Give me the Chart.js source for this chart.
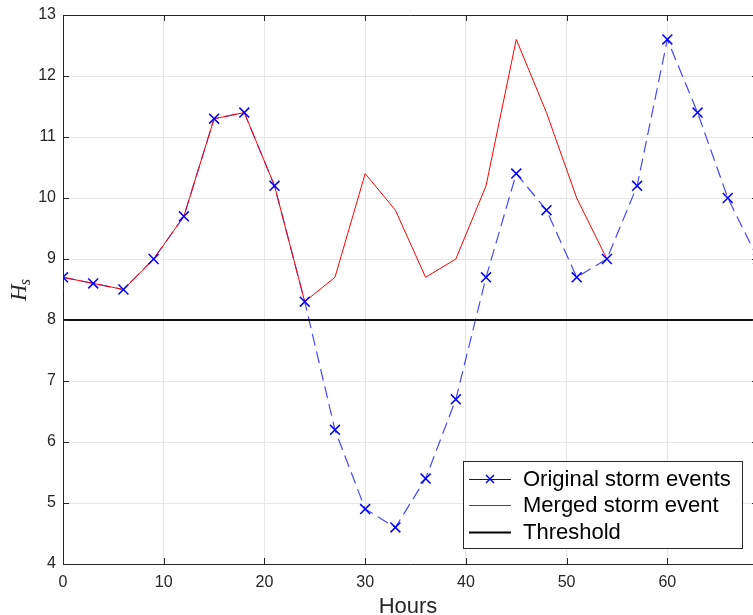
<!DOCTYPE html>
<html>
<head>
<meta charset="utf-8">
<script src="https://cdn.jsdelivr.net/npm/chart.js@4/dist/chart.umd.min.js"></script>
<style>
    html, body { margin: 0; padding: 0; background: #fff; overflow: hidden; }
    #wrap { width: 753px; height: 615px; overflow: hidden; }
</style>
</head>
<body>
<div id="wrap"><canvas id="stormChart" width="758" height="615"></canvas></div>
<script>
// storm series sampled every 3 hours
const hours = [0, 3, 6, 9, 12, 15, 18, 21, 24, 27, 30, 33, 36, 39, 42, 45, 48, 51, 54, 57, 60, 63, 66, 69];
const originalHs = [8.7, 8.6, 8.5, 9.0, 9.7, 11.3, 11.4, 10.2, 8.3, 6.2, 4.9, 4.6, 5.4, 6.7, 8.7, 10.4, 9.8, 8.7, 9.0, 10.2, 12.6, 11.4, 10.0, 9.0];
const mergedHours = [0, 3, 6, 9, 12, 15, 18, 21, 24, 27, 30, 33, 36, 39, 42, 45, 48, 51, 54];
const mergedHs = [8.7, 8.6, 8.5, 9.0, 9.7, 11.3, 11.4, 10.2, 8.3, 8.7, 10.4, 9.8, 8.7, 9.0, 10.2, 12.6, 11.4, 10.0, 9.0];
const threshold = 8;
const thresholdHours = [0, 69];

const xTicks = [0, 10, 20, 30, 40, 50, 60];
const yTicks = [4, 5, 6, 7, 8, 9, 10, 11, 12, 13];
const legendLabels = ["Original storm events", "Merged storm event", "Threshold"];

const BLUE = "#0000ff";
const RED = "#ff0000";
const AXIS = "#262626";

function toPoints(xs, ys) {
    return xs.map((x, i) => ({ x: x, y: ys[i] }));
}

// axes box, inward ticks, axis titles and the legend
const decorations = {
    id: "decorations",
    afterDraw(chart) {
        const ctx = chart.ctx;
        const { left, right, top, bottom } = chart.chartArea;
        const xs = chart.scales.x;
        const ys = chart.scales.y;

        ctx.save();
        ctx.strokeStyle = AXIS;
        ctx.lineWidth = 1;
        ctx.beginPath();
        ctx.moveTo(left + 0.5, top + 0.5);
        ctx.lineTo(right, top + 0.5);
        ctx.moveTo(left + 0.5, top);
        ctx.lineTo(left + 0.5, bottom + 0.5);
        ctx.lineTo(right, bottom + 0.5);
        ctx.moveTo(right - 0.5, top);
        ctx.lineTo(right - 0.5, bottom);
        ctx.stroke();

        // ticks pointing into the plot
        ctx.beginPath();
        xTicks.forEach(v => {
            const px = Math.round(xs.getPixelForValue(v)) + 0.5;
            ctx.moveTo(px, bottom);
            ctx.lineTo(px, bottom - 6);
            ctx.moveTo(px, top);
            ctx.lineTo(px, top + 6);
        });
        yTicks.forEach(v => {
            const py = Math.round(ys.getPixelForValue(v)) + 0.5;
            ctx.moveTo(left, py);
            ctx.lineTo(left + 6, py);
            ctx.moveTo(right, py);
            ctx.lineTo(right - 6, py);
        });
        ctx.stroke();

        // x title
        ctx.fillStyle = AXIS;
        ctx.font = "22px 'Liberation Sans', Arial, sans-serif";
        ctx.textAlign = "center";
        ctx.textBaseline = "alphabetic";
        ctx.fillText("Hours", (left + 753) / 2, 613);

        // y title H_s
        ctx.save();
        ctx.translate(26, (top + bottom) / 2);
        ctx.rotate(-Math.PI / 2);
        ctx.font = "italic 23px 'Liberation Serif', 'DejaVu Serif', serif";
        ctx.textAlign = "left";
        const hw = ctx.measureText("H").width;
        ctx.font = "italic 16px 'Liberation Serif', 'DejaVu Serif', serif";
        const sw = ctx.measureText("s").width;
        const startX = -(hw + sw) / 2;
        ctx.font = "italic 23px 'Liberation Serif', 'DejaVu Serif', serif";
        ctx.fillText("H", startX, 0);
        ctx.font = "italic 16px 'Liberation Serif', 'DejaVu Serif', serif";
        ctx.fillText("s", startX + hw - 1, 4);
        ctx.restore();

        // legend box
        const bx = 463, by = 461, bw = 279, bh = 87;
        ctx.fillStyle = "#fff";
        ctx.fillRect(bx, by, bw, bh);
        ctx.strokeStyle = AXIS;
        ctx.strokeRect(bx + 0.5, by + 0.5, bw, bh);

        const rows = [479, 505, 532];
        const styles = [
            { color: BLUE, width: 1, marker: true },
            { color: RED, width: 1, marker: false },
            { color: "#000", width: 2, marker: false }
        ];
        ctx.font = "22px 'Liberation Sans', Arial, sans-serif";
        ctx.textAlign = "left";
        ctx.textBaseline = "middle";
        rows.forEach((ry, i) => {
            const st = styles[i];
            ctx.strokeStyle = st.color;
            ctx.lineWidth = st.width;
            ctx.beginPath();
            ctx.moveTo(469, ry + 0.5);
            ctx.lineTo(511, ry + 0.5);
            ctx.stroke();
            if (st.marker) {
                ctx.lineWidth = 1.5;
                ctx.beginPath();
                ctx.moveTo(486, ry - 4);
                ctx.lineTo(494, ry + 4);
                ctx.moveTo(494, ry - 4);
                ctx.lineTo(486, ry + 4);
                ctx.stroke();
            }
            ctx.fillStyle = "#000";
            ctx.fillText(legendLabels[i], 523, ry + 1);
        });
        ctx.restore();
    }
};

new Chart(document.getElementById("stormChart"), {
    type: "line",
    data: {
        datasets: [
            {
                // markers on top of every line
                data: toPoints(hours, originalHs),
                showLine: false,
                pointStyle: "crossRot",
                pointRadius: 7,
                pointBorderWidth: 1.5,
                pointBorderColor: BLUE,
                pointBackgroundColor: BLUE
            },
            {
                data: toPoints(thresholdHours, [threshold, threshold]),
                borderColor: "#111",
                borderWidth: 2.2,
                pointRadius: 0
            },
            {
                data: toPoints(mergedHours, mergedHs),
                borderColor: RED,
                borderWidth: 1,
                pointRadius: 0
            },
            {
                data: toPoints(hours, originalHs),
                borderColor: "rgba(40, 40, 255, 0.85)",
                borderWidth: 1.2,
                borderDash: [12, 6],
                pointRadius: 0
            }
        ]
    },
    options: {
        responsive: false,
        animation: false,
        devicePixelRatio: 1,
        layout: {
            autoPadding: false,
            padding: { top: 15, left: 0, right: 0, bottom: 0 }
        },
        plugins: {
            legend: { display: false },
            tooltip: { enabled: false }
        },
        scales: {
            x: {
                type: "linear",
                min: 0,
                max: 69,
                afterFit: scale => {
                    scale.height = 51;
                    scale.paddingLeft = 0;
                    scale.paddingRight = 0;
                },
                afterBuildTicks: scale => { scale.ticks = xTicks.map(v => ({ value: v })); },
                grid: { color: "#e6e6e6", drawTicks: false },
                border: { display: false },
                ticks: {
                    padding: 9,
                    maxRotation: 0,
                    color: AXIS,
                    font: { family: "'Liberation Sans', Arial, sans-serif", size: 16 }
                }
            },
            y: {
                min: 4,
                max: 13,
                afterFit: scale => {
                    scale.width = 63;
                    scale.paddingTop = 0;
                    scale.paddingBottom = 0;
                },
                afterBuildTicks: scale => { scale.ticks = yTicks.map(v => ({ value: v })); },
                grid: { color: "#e6e6e6", drawTicks: false },
                border: { display: false },
                ticks: {
                    padding: 7,
                    color: AXIS,
                    font: { family: "'Liberation Sans', Arial, sans-serif", size: 16 }
                }
            }
        }
    },
    plugins: [decorations]
});
</script>
</body>
</html>
